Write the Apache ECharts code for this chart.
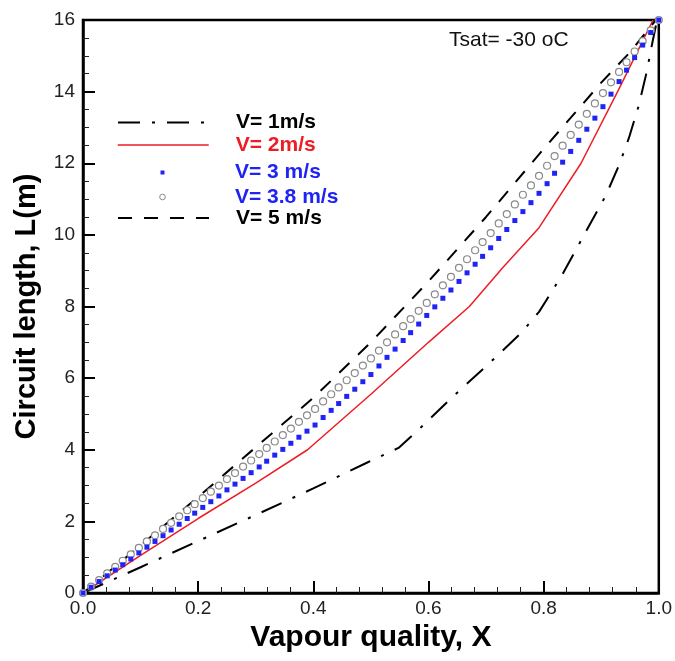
<!DOCTYPE html>
<html>
<head>
<meta charset="utf-8">
<script src="https://cdn.jsdelivr.net/npm/echarts@6/dist/echarts.min.js"></script>
<style>
html,body{margin:0;padding:0;background:#fff;}
#chart{width:675px;height:661px;}
</style>
</head>
<body>
<div id="chart"></div>
<script>
// ---- data ----
const seriesNames = ['V= 1m/s', 'V= 2m/s', 'V= 3 m/s', 'V= 3.8 m/s', 'V= 5 m/s'];
const xTickLabels = ['0.0', '0.2', '0.4', '0.6', '0.8', '1.0'];
const yTickLabels = ['0', '2', '4', '6', '8', '10', '12', '14', '16'];

// V = 1 m/s (dash-dot)
const v1X = [0, 0.1, 0.2, 0.3, 0.4, 0.492, 0.548, 0.579, 0.64, 0.70, 0.761, 0.792, 0.832, 0.873, 0.908, 0.931, 0.948, 0.965, 0.979, 0.988, 0.997];
const v1L = [0, 0.72, 1.45, 2.18, 2.92, 3.63, 4.05, 4.5, 5.45, 6.33, 7.26, 7.85, 8.88, 10.08, 11.1, 11.95, 12.7, 13.6, 14.55, 15.3, 16.0];

// V = 2 m/s (red solid)
const v2X = [0, 0.1, 0.2, 0.3, 0.39, 0.5, 0.6, 0.671, 0.73, 0.792, 0.865, 0.93, 0.99];
const v2L = [0, 1.05, 2.08, 3.07, 4.0, 5.55, 7.0, 8.0, 9.1, 10.2, 12.0, 14.05, 16.0];

// V = 3 and 3.8 m/s (markers) share the same quality samples
const sampleX = [0, 0.014, 0.028, 0.042, 0.056, 0.069, 0.083, 0.097, 0.111, 0.125, 0.139, 0.153, 0.167, 0.181, 0.194, 0.208, 0.222, 0.236, 0.250, 0.264, 0.278, 0.292, 0.306, 0.319, 0.333, 0.347, 0.361, 0.375, 0.389, 0.403, 0.417, 0.431, 0.444, 0.458, 0.472, 0.486, 0.500, 0.514, 0.528, 0.542, 0.556, 0.569, 0.583, 0.597, 0.611, 0.625, 0.639, 0.653, 0.667, 0.681, 0.694, 0.708, 0.722, 0.736, 0.750, 0.764, 0.778, 0.792, 0.806, 0.819, 0.833, 0.847, 0.861, 0.875, 0.889, 0.903, 0.917, 0.931, 0.944, 0.958, 0.972, 0.986, 1.000];
const v3L = [0, 0.16, 0.32, 0.48, 0.64, 0.79, 0.95, 1.12, 1.28, 1.44, 1.60, 1.76, 1.92, 2.08, 2.23, 2.39, 2.55, 2.71, 2.88, 3.04, 3.20, 3.36, 3.52, 3.68, 3.85, 4.01, 4.18, 4.35, 4.52, 4.69, 4.90, 5.10, 5.29, 5.49, 5.69, 5.90, 6.10, 6.34, 6.58, 6.81, 7.05, 7.27, 7.51, 7.75, 7.99, 8.23, 8.46, 8.70, 8.94, 9.18, 9.40, 9.64, 9.90, 10.15, 10.40, 10.65, 10.90, 11.16, 11.43, 11.72, 12.03, 12.33, 12.64, 12.95, 13.26, 13.58, 13.93, 14.28, 14.60, 14.95, 15.30, 15.65, 16.00];
const v38L = [0, 0.18, 0.36, 0.55, 0.73, 0.90, 1.08, 1.26, 1.44, 1.61, 1.79, 1.96, 2.14, 2.31, 2.48, 2.65, 2.83, 3.00, 3.18, 3.35, 3.53, 3.70, 3.88, 4.05, 4.23, 4.41, 4.59, 4.78, 4.96, 5.14, 5.35, 5.55, 5.74, 5.94, 6.14, 6.35, 6.55, 6.77, 7.00, 7.22, 7.45, 7.65, 7.88, 8.10, 8.34, 8.59, 8.83, 9.08, 9.32, 9.57, 9.80, 10.05, 10.32, 10.58, 10.85, 11.12, 11.38, 11.65, 11.93, 12.20, 12.49, 12.79, 13.08, 13.38, 13.67, 13.96, 14.26, 14.55, 14.82, 15.12, 15.41, 15.71, 16.00];

// V = 5 m/s (dashed)
const v5X = [0, 0.1, 0.2, 0.3, 0.4, 0.5, 0.6, 0.7, 0.8, 0.9, 0.95, 0.995];
const v5L = [0, 1.33, 2.68, 4.07, 5.45, 7.0, 8.7, 10.5, 12.4, 14.25, 15.1, 16.0];

// ---- styling ----
const FONT = '"Liberation Sans", Arial, Helvetica, sans-serif';
const BLACK = '#000000';
const RED = '#ee1c25';
const BLUE = '#1f24f5';
const GREY = '#8a8a8a';
const DASHDOT = [22, 12, 3, 12];
const DASHED = [14, 12];

function pairs(xs, ys) { return xs.map((x, i) => [x, ys[i]]); }

function legendFor(name, top, color, opts) {
  return Object.assign({
    show: true,
    selectedMode: false,
    left: 117,
    top: top,
    padding: 0,
    orient: 'vertical',
    itemWidth: 91,
    itemHeight: 14,
    data: [name],
    textStyle: {
      fontFamily: FONT, fontSize: 21, fontWeight: 'bold', color: color,
      padding: [0, 0, 0, 22], lineHeight: 22
    }
  }, opts);
}

const chart = echarts.init(document.getElementById('chart'), null, {renderer: 'canvas'});
const option = {
  animation: false,
  backgroundColor: '#ffffff',
  title: {
    text: 'Tsat= -30 oC',
    left: 449, top: 30, padding: 0,
    textStyle: {fontFamily: FONT, fontSize: 21, fontWeight: 'normal', color: '#111'}
  },
  grid: {
    left: 83, right: 15, top: 20, bottom: 68,
    show: true, borderColor: BLACK, borderWidth: 2.5, backgroundColor: 'transparent'
  },
  legend: [
    legendFor(seriesNames[0], 111.5, '#000', {
      itemStyle: {opacity: 0},
      lineStyle: {color: BLACK, width: 2, type: DASHDOT}
    }),
    legendFor(seriesNames[1], 134, RED, {
      itemStyle: {opacity: 0},
      lineStyle: {color: RED, width: 1.5, type: 'solid'}
    }),
    legendFor(seriesNames[2], 161.5, BLUE, {
      itemHeight: 5,
      lineStyle: {width: 0, opacity: 0},
      itemStyle: {color: BLUE, borderWidth: 0, opacity: 1}
    }),
    legendFor(seriesNames[3], 186, BLUE, {
      itemHeight: 7,
      lineStyle: {width: 0, opacity: 0},
      itemStyle: {color: '#fff', borderColor: GREY, borderWidth: 1, opacity: 1}
    }),
    legendFor(seriesNames[4], 207, '#000', {
      itemStyle: {opacity: 0},
      lineStyle: {color: BLACK, width: 2, type: DASHED}
    })
  ],
  xAxis: {
    type: 'value', min: 0, max: 1, interval: 0.2,
    name: 'Vapour quality, X', nameLocation: 'middle', nameGap: 24,
    nameTextStyle: {fontFamily: FONT, fontSize: 30, fontWeight: 'bold', color: '#000'},
    axisLine: {show: true, onZero: false, lineStyle: {color: BLACK, width: 2.5}},
    axisTick: {show: true, inside: true, length: 12, lineStyle: {color: BLACK, width: 2}},
    minorTick: {show: true, splitNumber: 5, length: 6, lineStyle: {color: '#222', width: 1}},
    splitLine: {show: false},
    axisLabel: {
      fontFamily: FONT, fontSize: 19, color: '#222', margin: 6,
      formatter: v => xTickLabels[Math.round(v / 0.2)]
    }
  },
  yAxis: {
    type: 'value', min: 0, max: 16, interval: 2,
    name: 'Circuit length, L(m)', nameLocation: 'middle', nameGap: 42, nameRotate: 90,
    nameTextStyle: {fontFamily: FONT, fontSize: 29, fontWeight: 'bold', color: '#000'},
    axisLine: {show: true, onZero: false, lineStyle: {color: BLACK, width: 2.5}},
    axisTick: {show: true, inside: true, length: 12, lineStyle: {color: BLACK, width: 2}},
    minorTick: {show: true, splitNumber: 4, length: 6, lineStyle: {color: '#222', width: 1}},
    splitLine: {show: false},
    axisLabel: {
      fontFamily: FONT, fontSize: 19, color: '#222', margin: 8,
      formatter: v => yTickLabels[Math.round(v / 2)]
    }
  },
  series: [
    {
      name: seriesNames[0], type: 'line', data: pairs(v1X, v1L),
      symbol: 'none', z: 2,
      lineStyle: {color: BLACK, width: 2, type: DASHDOT},
      itemStyle: {color: BLACK}
    },
    {
      name: seriesNames[1], type: 'line', data: pairs(v2X, v2L),
      symbol: 'none', z: 2,
      lineStyle: {color: RED, width: 1.5, type: 'solid'},
      itemStyle: {color: RED}
    },
    {
      name: seriesNames[4], type: 'line', data: pairs(v5X, v5L),
      symbol: 'none', z: 2,
      lineStyle: {color: BLACK, width: 2, type: DASHED},
      itemStyle: {color: BLACK}
    },
    {
      name: seriesNames[3], type: 'line', data: pairs(sampleX, v38L),
      symbol: 'circle', symbolSize: 7, showSymbol: true, showAllSymbol: true, z: 3,
      lineStyle: {width: 0, opacity: 0},
      itemStyle: {color: '#ffffff', borderColor: GREY, borderWidth: 1.2, opacity: 1}
    },
    {
      name: seriesNames[2], type: 'line', data: pairs(sampleX, v3L),
      symbol: 'rect', symbolSize: 5, showSymbol: true, showAllSymbol: true, z: 4,
      lineStyle: {width: 0, opacity: 0},
      itemStyle: {color: BLUE, opacity: 1}
    }
  ]
};
chart.setOption(option);
</script>
</body>
</html>
